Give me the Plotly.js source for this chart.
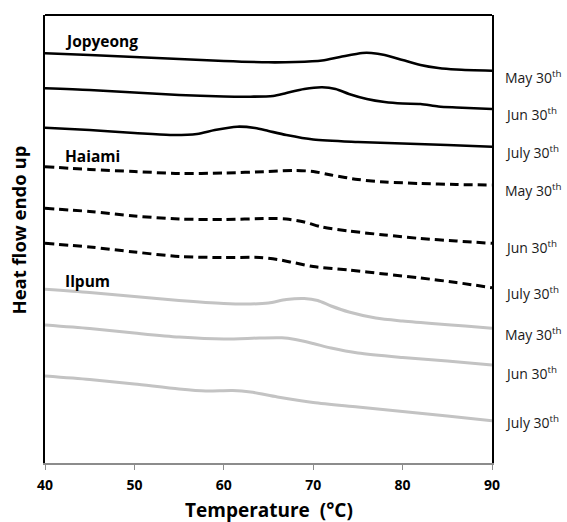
<!DOCTYPE html>
<html>
<head>
<meta charset="utf-8">
<script src="https://cdn.plot.ly/plotly-3.0.1.min.js"></script>
<style>html,body{margin:0;padding:0;background:#fff;}#chart{width:567px;height:522px;}</style>
</head>
<body>
<div id="chart"></div>
<script>
// Heat flow values (arbitrary units, plotted on a reversed axis, downward offsets)
const jopMayT  = [40,45,50,55,60,65,68,71,73,75.5,76.5,78,80,82,84,86,90];
const jopMayY  = [53.3,55,57,59,61,62.3,62,60.5,57,53,53,55,60,65,68,69.5,70.7];
const jopJunT  = [40,45,50,55,60,63,65.5,67,69,71,72.5,74,76,78,80,82,84,86,90];
const jopJunY  = [88.3,90,92.5,95,96.5,96.7,96,93,89,87.3,89,94,99,102,103.5,104,106.5,107.5,109];
const jopJulT  = [40,45,50,54,57,59,61.5,63.5,65,67,70,75,80,85,90];
const jopJulY  = [127.7,130,133,135,134,130,126.7,128,131,135,139.5,142,143.5,145,146.7];
const haiMayT  = [40,45,50,55,60,65,68,70,72,75,78,82,86,90];
const haiMayY  = [166.7,169.5,171.5,173.5,173,171.5,170.5,171.5,175,179.5,182,183.5,184.5,185];
const haiJunT  = [40,45,50,55,60,65,67,69,71,74,78,82,86,90];
const haiJunY  = [208.3,211.5,216,219,219.5,218.5,219,222,227,231,235,238.5,241,243.3];
const haiJulT  = [40,45,50,55,60,64,66,68,70,74,78,82,86,90];
const haiJulY  = [243.3,247,252,256.5,257.5,257.5,259.5,263,266.5,270,274,278,282.5,287.7];
const ilpMayT  = [40,45,50,55,60,63,65,67,69,70.5,72,74,77,80,84,87,90];
const ilpMayY  = [289.3,292.5,296.5,300.5,303.5,304,303,299.5,298.5,300.5,306,312,318,321,324,326,328.3];
const ilpJunT  = [40,45,50,55,60,64,66.5,68,70,72,75,80,85,90];
const ilpJunY  = [325,328.5,333,337,339,338,337.8,339.5,343.5,348,353,357.5,361,365];
const ilpJulT  = [40,45,50,55,58,61,63,66,70,75,80,85,90];
const ilpJulY  = [376,379.5,384,389,391,390.5,392,397,402.5,407,411.5,416,420.7];

const varieties = ['Jopyeong','Haiami','Ilpum'];
const varietyLabelY = [40.7,155.7,280.7];
const dateLabels = ['May 30<sup>th</sup>','Jun 30<sup>th</sup>','July 30<sup>th</sup>',
                    'May 30<sup>th</sup>','Jun 30<sup>th</sup>','July 30<sup>th</sup>',
                    'May 30<sup>th</sup>','Jun 30<sup>th</sup>','July 30<sup>th</sup>'];
const dateLabelY = [77,114,151.7,190,246.7,293.3,334,373.3,421.7];
const xTicks = [40,50,60,70,80,90];
const xTitle = 'Temperature  (°C)';
const yTitle = 'Heat flow endo up';

const solid = {color:'#000000', width:2.6, shape:'spline', smoothing:0.8};
const dashed = {color:'#000000', width:3, dash:'9px,5px', shape:'spline', smoothing:0.8};
const grey = {color:'#c3c3c3', width:3, shape:'spline', smoothing:0.8};

const series = [
  [jopMayT,jopMayY,solid],[jopJunT,jopJunY,solid],[jopJulT,jopJulY,solid],
  [haiMayT,haiMayY,dashed],[haiJunT,haiJunY,dashed],[haiJulT,haiJulY,dashed],
  [ilpMayT,ilpMayY,grey],[ilpJunT,ilpJunY,grey],[ilpJulT,ilpJulY,grey]
];
const traces = series.map(s => ({x:s[0], y:s[1], mode:'lines', line:s[2], hoverinfo:'skip', showlegend:false, cliponaxis:false}));

const annotations = [];
varieties.forEach((v,i) => annotations.push({
  x:42.0, y:varietyLabelY[i], xref:'x', yref:'y', text:'<b>'+v+'</b>', showarrow:false,
  xanchor:'left', yanchor:'middle', font:{family:'Open Sans, sans-serif', size:15.5, color:'#000'}
}));
dateLabels.forEach((t,i) => annotations.push({
  x:1, xshift:11, y:dateLabelY[i], xref:'paper', yref:'y', text:t, showarrow:false,
  xanchor:'left', yanchor:'middle', font:{family:'Open Sans, sans-serif', size:14, color:'#1a1a1a'}
}));
annotations.push({
  x:65.05, y:0, xref:'x', yref:'paper', yshift:-47, text:'<b>'+xTitle+'</b>', showarrow:false,
  xanchor:'center', yanchor:'middle', font:{family:'Open Sans, sans-serif', size:19, color:'#000'}
});
annotations.push({
  x:0, xshift:-27, y:230.5, xref:'paper', yref:'y', text:'<b>'+yTitle+'</b>', showarrow:false, textangle:-90,
  xanchor:'center', yanchor:'middle', font:{family:'Open Sans, sans-serif', size:18.5, color:'#000'}
});

const layout = {
  width:567, height:522,
  margin:{l:45, r:75, t:15, b:59},
  paper_bgcolor:'#ffffff', plot_bgcolor:'#ffffff',
  xaxis:{range:[40,90], tickvals:xTicks, ticktext:xTicks.map(String), ticks:'outside', ticklen:5, tickwidth:1,
         tickcolor:'#8c8c8c', showline:true, linecolor:'#8c8c8c', linewidth:2, showgrid:false, zeroline:false,
         ticklabelstandoff:3,
         tickfont:{family:'Open Sans, sans-serif', size:14, color:'#000', weight:'bold'}},
  yaxis:{range:[463,15], showticklabels:false, ticks:'', showgrid:false, zeroline:false,
         showline:true, mirror:true, linecolor:'#000', linewidth:2},
  shapes:[{type:'line', xref:'paper', yref:'paper', x0:0, x1:1, y0:1, y1:1, line:{color:'#000', width:2}}],
  annotations:annotations
};

Plotly.newPlot('chart', traces, layout, {displayModeBar:false, staticPlot:true});
</script>
</body>
</html>
